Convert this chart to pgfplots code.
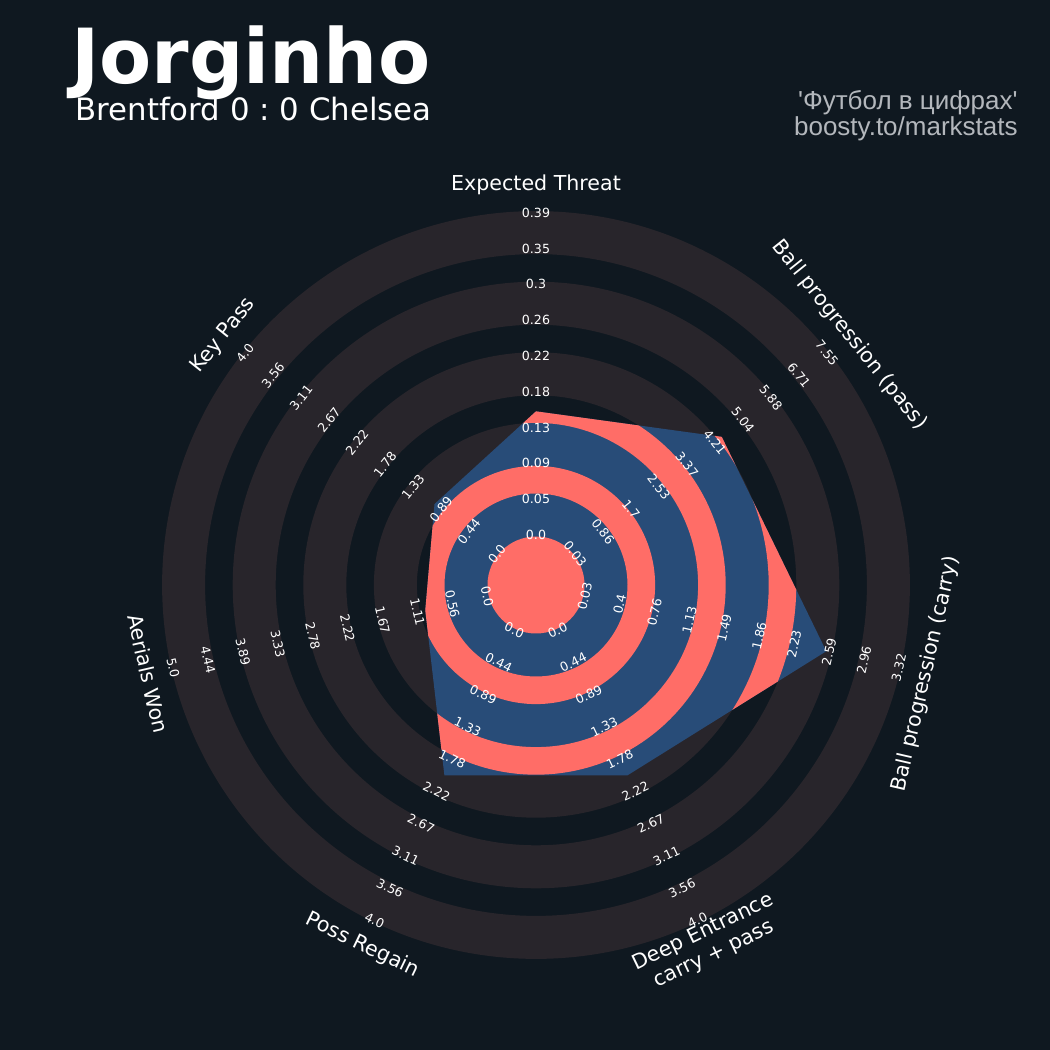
\documentclass[border=0pt]{standalone}
\usepackage{pgfplots}
\pgfplotsset{compat=1.18}
\usepackage{pgfplotstable}
\usepackage{fontspec}
\setmainfont{DejaVu Sans}
\newfontfamily\robo{Liberation Sans}
\frenchspacing
\definecolor{bg}{HTML}{0F1820}
\definecolor{ringgray}{HTML}{28252B}
\definecolor{radblue}{HTML}{284C78}
\definecolor{salmon}{HTML}{FF6D67}
\definecolor{subgray}{HTML}{B3B7BC}

% radar values: angle (deg), value, range min, range max
\pgfplotstableread{
ang val lo hi
90 0.15 0 0.39
38.5714 4.40 0.03 7.55
-12.8571 2.55 0.03 3.32
-64.2857 2.0 0 4
-115.7143 2.0 0 4
-167.1429 1.0 0 5
141.4286 1.0 0 4
90 0.15 0 0.39
}\radar

\tikzset{ticklab/.style={text=white, font=\fontsize{6.3}{7}\selectfont, inner sep=0pt},
  paramlab/.style={text=white, font=\fontsize{10.3}{12.4}\selectfont, align=center, inner sep=0pt}}

\newcommand\ticklabels[3]{%
  \foreach \lab [count=\k from 0] in {#3} {%
    \edef\temp{\noexpand\node[ticklab, rotate=#2] at (axis cs:{(50+35.8*\k)*cos(#1)},{(50+35.8*\k)*sin(#1)}) {\lab};}%
    \temp
  }%
}

\begin{document}
\begin{tikzpicture}
\begin{axis}[
  width=525pt, height=525pt, scale only axis,
  xmin=-536, xmax=514, ymin=-465, ymax=585,
  axis lines=none, ticks=none, clip=false,
  axis background/.style={fill=bg},
]
% background rings
\fill[ringgray, even odd rule] (axis cs:0,0) circle[radius=373.9] circle[radius=330.9]
  circle[radius=303.3] circle[radius=260.3] circle[radius=232.7] circle[radius=189.7]
  circle[radius=162.1] circle[radius=119.1] circle[radius=91.5] circle[radius=48.5];
% radar polygon
\addplot[draw=none, fill=radblue, path picture={
  \path[path picture={}, fill=salmon, draw=none, even odd rule] (axis cs:0,0) circle[radius=330.9] circle[radius=303.3]
    circle[radius=260.3] circle[radius=232.7] circle[radius=189.7] circle[radius=162.1]
    circle[radius=119.1] circle[radius=91.5] circle[radius=48.5];
}] table[x expr={(48.5+325.4*(\thisrow{val}-\thisrow{lo})/(\thisrow{hi}-\thisrow{lo}))*cos(\thisrow{ang})},
         y expr={(48.5+325.4*(\thisrow{val}-\thisrow{lo})/(\thisrow{hi}-\thisrow{lo}))*sin(\thisrow{ang})}] {\radar};

% tick labels
\ticklabels{90}{0}{0.0,0.05,0.09,0.13,0.18,0.22,0.26,0.3,0.35,0.39}
\ticklabels{38.5714}{-51.4286}{0.03,0.86,1.7,2.53,3.37,4.21,5.04,5.88,6.71,7.55}
\ticklabels{-12.8571}{77.1429}{0.03,0.4,0.76,1.13,1.49,1.86,2.23,2.59,2.96,3.32}
\ticklabels{-64.2857}{25.7143}{0.0,0.44,0.89,1.33,1.78,2.22,2.67,3.11,3.56,4.0}
\ticklabels{-115.7143}{-25.7143}{0.0,0.44,0.89,1.33,1.78,2.22,2.67,3.11,3.56,4.0}
\ticklabels{-167.1429}{-77.1429}{0.0,0.56,1.11,1.67,2.22,2.78,3.33,3.89,4.44,5.0}
\ticklabels{141.4286}{51.4286}{0.0,0.44,0.89,1.33,1.78,2.22,2.67,3.11,3.56,4.0}

% parameter labels
\node[paramlab, rotate=0] at (axis cs:{400*cos(90)},{400*sin(90)}) {Expected Threat};
\node[paramlab, rotate=-51.4286] at (axis cs:{401*cos(38.5714)},{401*sin(38.5714)}) {Ball progression (pass)};
\node[paramlab, rotate=77.1429] at (axis cs:{400*cos(-12.8571)},{400*sin(-12.8571)}) {Ball progression (carry)};
\node[paramlab, rotate=25.7143] at (axis cs:{398*cos(-64.2857)},{398*sin(-64.2857)}) {Deep Entrance\\carry + pass};
\node[paramlab, rotate=-25.7143] at (axis cs:{400*cos(-115.7143)},{400*sin(-115.7143)}) {Poss Regain};
\node[paramlab, rotate=-77.1429] at (axis cs:{398*cos(-167.1429)},{398*sin(-167.1429)}) {Aerials Won};
\node[paramlab, rotate=51.4286] at (axis cs:{400*cos(141.4286)},{400*sin(141.4286)}) {Key Pass};

% titles
\node[anchor=base west, inner sep=0pt, text=white, font=\fontsize{38}{40}\selectfont\bfseries] at (axis cs:-465,501) {Jorginho};
\node[anchor=base west, inner sep=0pt, text=white, font=\fontsize{15.4}{17}\selectfont] at (axis cs:-461,464) {Brentford 0 : 0 Chelsea};
\node[anchor=base east, inner sep=0pt, text=subgray, font=\robo\fontsize{13}{15}\selectfont] at (axis cs:482,475) {'Футбол в цифрах'};
\node[anchor=base east, inner sep=0pt, text=subgray, font=\robo\fontsize{13}{15}\selectfont] at (axis cs:482,449) {boosty.to/markstats};
\end{axis}
\end{tikzpicture}
\end{document}
